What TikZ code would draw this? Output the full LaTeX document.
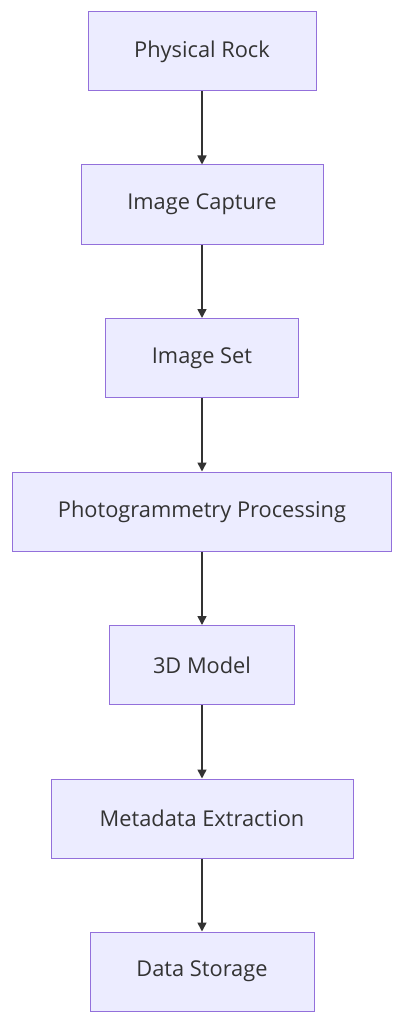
\documentclass[tikz,border=0pt]{standalone}
\usepackage{fontspec}
\setmainfont{Open Sans}
\usetikzlibrary{arrows.meta}
\definecolor{boxfill}{HTML}{ECECFF}
\definecolor{boxline}{HTML}{9370DB}
\definecolor{txt}{HTML}{333333}
\tikzset{
  stepbox/.style={draw=boxline, fill=boxfill, line width=1pt, minimum height=79pt, inner sep=0pt, text=txt, font=\fontsize{21.8}{24}\selectfont},
  flow/.style={draw=txt, line width=1.6pt, -{Triangle[length=9pt,width=9pt]}}
}
\begin{document}
\begin{tikzpicture}[x=1pt,y=-1pt]
\useasboundingbox (0,0) rectangle (404,1024);
\node[stepbox, minimum width=228pt] (a) at (202,51.5) {Physical Rock};
\node[stepbox, minimum width=242pt] (b) at (202,204.5) {Image Capture};
\node[stepbox, minimum width=193pt] (c) at (202,358) {Image Set};
\node[stepbox, minimum width=379pt] (d) at (202,511.5) {Photogrammetry Processing};
\node[stepbox, minimum width=185pt] (e) at (202,665) {3D Model};
\node[stepbox, minimum width=302pt] (f) at (202,818.5) {Metadata Extraction};
\node[stepbox, minimum width=224pt] (g) at (202,971.5) {Data Storage};
\draw[flow] (a.south) -- (b.north);
\draw[flow] (b.south) -- (c.north);
\draw[flow] (c.south) -- (d.north);
\draw[flow] (d.south) -- (e.north);
\draw[flow] (e.south) -- (f.north);
\draw[flow] (f.south) -- (g.north);
\end{tikzpicture}
\end{document}
